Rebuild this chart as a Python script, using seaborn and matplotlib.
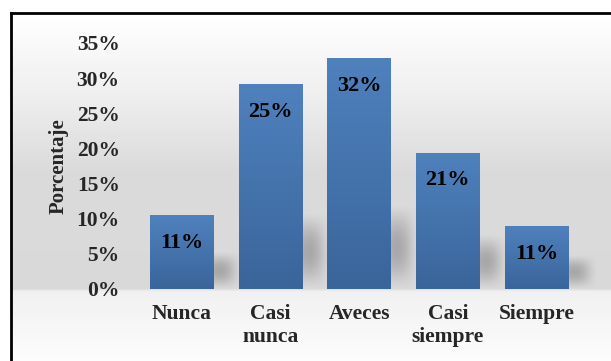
import numpy as np
import pandas as pd
import matplotlib
matplotlib.use("Agg")
import matplotlib.pyplot as plt
import seaborn as sns
from matplotlib.ticker import FuncFormatter
from matplotlib.colors import LinearSegmentedColormap

# Data
categories = ["Nunca", "Casi\nnunca", "Aveces", "Casi\nsiempre", "Siempre"]
porcentaje = [0.105, 0.291, 0.329, 0.194, 0.090]
etiquetas = ["11%", "25%", "32%", "21%", "11%"]

df = pd.DataFrame({"categoria": categories, "porcentaje": porcentaje})

sns.set_theme(style="white")
plt.rcParams['font.family'] = ['Liberation Serif', 'DejaVu Serif']
plt.rcParams['font.weight'] = 'bold'

W, H = 611, 361
fig = plt.figure(figsize=(W / 100, H / 100), dpi=100)
fig.patch.set_facecolor("white")

# Background gradient (white -> gray -> light) inside the frame
bg = fig.add_axes([0, 0, 1, 1], zorder=0)
ys = np.arange(H)
stops_y = [13, 100, 170, 288, 291, 361]
stops_v = [1.0, 0.93, 0.855, 0.85, 0.94, 0.99]
col = np.interp(ys, stops_y, stops_v)
img = np.repeat(col[:, None], W, axis=1)
img[:13, :] = 1.0
img[:, :11] = 1.0
bg.imshow(img, cmap="gray", vmin=0, vmax=1, aspect="auto",
          extent=[0, W, H, 0], interpolation="bilinear")
bg.plot([11, 11], [H, 13], color="black", lw=2, solid_capstyle="projecting")
bg.plot([11, W], [13, 13], color="black", lw=2, solid_capstyle="projecting")
bg.set_xlim(0, W)
bg.set_ylim(H, 0)
bg.axis("off")

ax = fig.add_axes([137.7 / W, 1 - 289 / H, (580.8 - 137.7) / W, (289 - 43) / H], zorder=1)
ax.patch.set_alpha(0)

sns.barplot(data=df, x="categoria", y="porcentaje", ax=ax, color="#4775ad",
            width=0.72, saturation=1, edgecolor="none")

# vertical gradient on each bar
grad = LinearSegmentedColormap.from_list("g", ["#3a659b", "#4f81bd"])
for p in ax.patches:
    x0, w, h = p.get_x(), p.get_width(), p.get_height()
    im = ax.imshow(np.linspace(0, 1, 100)[:, None], cmap=grad, aspect="auto",
                   extent=[x0, x0 + w, 0, h], origin="lower", zorder=2)
    im.set_clip_path(p)

# soft shadows to the right of the bars
xs = np.linspace(0, 1, 60)
X, Y = np.meshgrid(xs, xs)
shade = (np.sin(np.pi * X) ** 1.5) * (np.sin(np.pi * Y) ** 1.2) * 0.55
for p in ax.patches:
    x0, w, h = p.get_x(), p.get_width(), p.get_height()
    sh = 0.3 * h + 0.02
    rgba = np.zeros((60, 60, 4))
    rgba[..., :3] = 0.5
    rgba[..., 3] = shade
    s = ax.imshow(rgba, extent=[x0 + w - 0.2, x0 + w + 0.32, 0, sh], origin="lower",
                  aspect="auto", zorder=1.5, interpolation="bilinear")
    s.set_clip_on(False)

for p, lab in zip(ax.patches, etiquetas):
    ax.annotate(lab, (p.get_x() + p.get_width() / 2, p.get_height()),
                xytext=(0, -20), textcoords="offset points",
                ha="center", va="center", fontsize=16, fontweight="bold",
                color="black", zorder=3)

ax.set_xlim(-0.5, 4.5)
ax.set_ylim(0, 0.35)
ax.set_yticks(np.arange(0, 0.351, 0.05))
ax.yaxis.set_major_formatter(FuncFormatter(lambda v, _: f"{v * 100:.0f}%"))
ax.tick_params(axis="y", length=0, pad=13, labelsize=15.5)
ax.tick_params(axis="x", length=0, pad=11, labelsize=15.5)
for t in ax.get_xticklabels() + ax.get_yticklabels():
    t.set_fontweight("bold")
ax.set_xlabel("")
ax.set_ylabel("Porcentaje", fontsize=15, fontweight="bold")
ax.yaxis.set_label_coords(-0.157, 0.5)
for s in ax.spines.values():
    s.set_visible(False)

fig.savefig("out.png", dpi=100)
